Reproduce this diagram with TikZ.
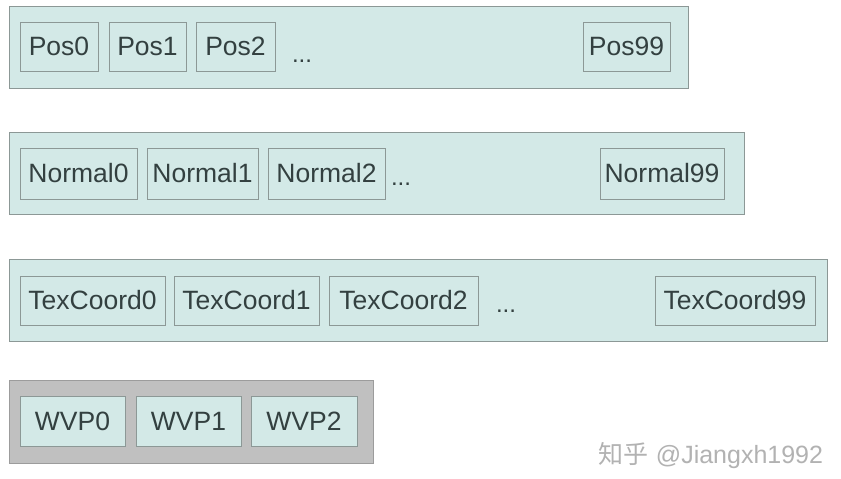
\documentclass[tikz,border=0pt]{standalone}
\usepackage{fontspec}
\setmainfont{Liberation Sans}
\newfontfamily\cjk{Noto Sans CJK SC}
\definecolor{cellfill}{HTML}{D3E9E7}
\definecolor{cellline}{HTML}{8C9896}
\definecolor{wvpfill}{HTML}{C0C0C0}
\definecolor{wvpline}{HTML}{9C9C9C}
\definecolor{labeltext}{HTML}{334040}
\tikzset{
  stream/.style={draw=cellline, fill=cellfill, line width=1pt, inner sep=0pt},
  cell/.style={draw=cellline, fill=cellfill, line width=0.8pt, inner sep=0pt,
    minimum height=49pt, text=labeltext, font=\fontsize{26.5}{30}\selectfont},
  more/.style={anchor=base, inner sep=0pt, text=labeltext, font=\fontsize{24}{28}\selectfont}
}
\begin{document}
\begin{tikzpicture}[x=1pt, y=-1pt]
  \useasboundingbox[fill=white] (0,0) rectangle (841,479);
  % positions
  \node[stream, minimum width=679pt, minimum height=82pt] (posrow) at (348.5,47) {};
  \node[cell, minimum width=78pt] (pos0) at (59,46.5) {Pos0};
  \node[cell, minimum width=77pt] (pos1) at (147.5,46.5) {Pos1};
  \node[cell, minimum width=79pt] (pos2) at (235.5,46.5) {Pos2};
  \node[more] (posdots) at (302,62) {...};
  \node[cell, minimum width=87pt] (pos99) at (626.5,46.5) {Pos99};
  % normals
  \node[stream, minimum width=735pt, minimum height=82pt] (normalrow) at (376.5,173) {};
  \node[cell, minimum width=117pt, minimum height=51pt] (normal0) at (78.5,173.5) {Normal0};
  \node[cell, minimum width=111pt, minimum height=51pt] (normal1) at (202.5,173.5) {Normal1};
  \node[cell, minimum width=117pt, minimum height=51pt] (normal2) at (326.5,173.5) {Normal2};
  \node[more] (normaldots) at (401,185) {...};
  \node[cell, minimum width=124pt, minimum height=51pt] (normal99) at (662,173.5) {Normal99};
  % texcoords
  \node[stream, minimum width=818pt, minimum height=82pt] (texrow) at (418,300) {};
  \node[cell, minimum width=145pt] (tex0) at (92.5,300.5) {TexCoord0};
  \node[cell, minimum width=145pt] (tex1) at (246.5,300.5) {TexCoord1};
  \node[cell, minimum width=149pt] (tex2) at (403.5,300.5) {TexCoord2};
  \node[more] (texdots) at (506,312) {...};
  \node[cell, minimum width=160pt] (tex99) at (735,300.5) {TexCoord99};
  % per instance
  \node[stream, draw=wvpline, fill=wvpfill, minimum width=364pt, minimum height=83pt] (wvprow) at (191,421.5) {};
  \node[cell, minimum width=105pt, minimum height=50pt] (wvp0) at (72.5,421) {WVP0};
  \node[cell, minimum width=105pt, minimum height=50pt] (wvp1) at (188.5,421) {WVP1};
  \node[cell, minimum width=106pt, minimum height=50pt] (wvp2) at (304,421) {WVP2};
  \node[text=black!30, font=\fontsize{25}{28}\selectfont] (mark) at (711,456) {{\cjk 知乎} @Jiangxh1992};
\end{tikzpicture}
\end{document}
